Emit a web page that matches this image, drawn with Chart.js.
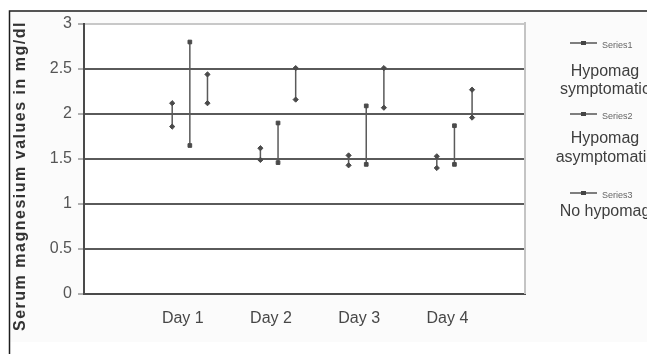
<!DOCTYPE html>
<html>
<head>
<meta charset="utf-8">
<script src="https://cdn.jsdelivr.net/npm/chart.js@4"></script>
<style>
  html, body { margin: 0; padding: 0; background: #fff; }
  #wrap { width: 647px; height: 354px; position: relative; }
</style>
</head>
<body>
<div id="wrap"><canvas id="chart"></canvas></div>
<script>
// values (mg/dl), top and bottom of each range
const days = ['Day 1', 'Day 2', 'Day 3', 'Day 4'];
const seriesKeys = ['Series1', 'Series2', 'Series3'];
const seriesNames = [['Hypomag', 'symptomatic'], ['Hypomag', 'asymptomatic'], ['No hypomag']];
const s1High = [2.12, 1.62, 1.54, 1.53];
const s1Low = [1.86, 1.49, 1.43, 1.40];
const s2High = [2.80, 1.90, 2.09, 1.87];
const s2Low = [1.65, 1.46, 1.44, 1.44];
const s3High = [2.44, 2.51, 2.51, 2.27];
const s3Low = [2.12, 2.16, 2.07, 1.96];
const yTicks = [0, 0.5, 1, 1.5, 2, 2.5, 3];
const yTitle = 'Serum magnesium values in mg/dl';

// each day sits at i + 1.2 on a 0..5 axis, series spread around it
const ranges = (high, low, shift) => {
    let pts = [];
    high.forEach((h, i) => {
        let x = i + 1.2 + shift;
        pts.push({ x: x, y: h }, { x: x, y: low[i] }, { x: x, y: null });
    });
    return pts;
};

const markers = ['rectRot', 'rect', 'rectRot'];

const frame = {
    id: 'frame',
    beforeDraw: (chart) => {
        let ctx = chart.ctx;
        ctx.save();
        ctx.fillStyle = '#fbfbfb';
        ctx.fillRect(10, 12, 637, 330);
        ctx.strokeStyle = '#1e1e1e';
        ctx.lineWidth = 1.5;
        ctx.beginPath();
        ctx.moveTo(9.5, 354);
        ctx.lineTo(9.5, 11);
        ctx.lineTo(647, 11);
        ctx.stroke();
        ctx.fillStyle = '#fff';
        ctx.fillRect(chart.chartArea.left, chart.chartArea.top, chart.chartArea.width, chart.chartArea.height);
        ctx.restore();
    },
    beforeDatasetsDraw: (chart) => {
        let a = chart.chartArea, ctx = chart.ctx;
        ctx.save();
        ctx.strokeStyle = '#c4c4c4';
        ctx.lineWidth = 2;
        ctx.beginPath();
        ctx.moveTo(a.right, a.top - 2);
        ctx.lineTo(a.right, a.bottom);
        ctx.stroke();
        ctx.restore();
    },
    afterDraw: (chart) => {
        let ctx = chart.ctx;
        ctx.save();
        // rotated axis title, stretched to its length in the picture
        ctx.translate(21, 176);
        ctx.rotate(-Math.PI / 2);
        ctx.font = 'bold 16px "Liberation Sans", Arial, sans-serif';
        let w = ctx.measureText(yTitle).width;
        ctx.letterSpacing = Math.max(0, (310 - w) / yTitle.length).toFixed(2) + 'px';
        ctx.fillStyle = '#333';
        ctx.textAlign = 'center';
        ctx.textBaseline = 'middle';
        ctx.fillText(yTitle, 0, 0);
        ctx.restore();

        // legend on the right
        const keyY = [43, 114, 193];
        const nameY = [[72, 90], [139, 158], [212]];
        ctx.save();
        seriesKeys.forEach((k, i) => {
            let y = keyY[i];
            ctx.strokeStyle = '#555';
            ctx.lineWidth = 1.5;
            ctx.beginPath();
            ctx.moveTo(570, y);
            ctx.lineTo(597, y);
            ctx.stroke();
            ctx.fillStyle = '#444';
            ctx.fillRect(581, y - 2, 5, 4);
            ctx.font = '9px "Liberation Sans", Arial, sans-serif';
            ctx.fillStyle = '#666';
            ctx.textAlign = 'left';
            ctx.textBaseline = 'middle';
            ctx.fillText(k, 602, y + 3);
            ctx.font = '16px "Liberation Sans", Arial, sans-serif';
            ctx.fillStyle = '#3e3e3e';
            ctx.textAlign = 'center';
            seriesNames[i].forEach((line, j) => {
                ctx.fillText(line, 605, nameY[i][j]);
            });
        });
        ctx.restore();
    }
};

const makeSet = (label, high, low, shift, i) => ({
    label: label,
    data: ranges(high, low, shift),
    showLine: true,
    spanGaps: false,
    borderColor: '#5a5a5a',
    borderWidth: 1.5,
    pointStyle: markers[i],
    pointRadius: 2.6,
    pointBackgroundColor: '#4a4a4a',
    pointBorderColor: '#4a4a4a',
    pointBorderWidth: 1
});

new Chart(document.getElementById('chart'), {
    type: 'scatter',
    data: {
        datasets: [
            makeSet(seriesKeys[0], s1High, s1Low, -0.2, 0),
            makeSet(seriesKeys[1], s2High, s2Low, 0, 1),
            makeSet(seriesKeys[2], s3High, s3Low, 0.2, 2)
        ]
    },
    options: {
        responsive: true,
        maintainAspectRatio: false,
        animation: false,
        devicePixelRatio: 1,
        layout: { padding: { left: 0, top: 24, right: 122, bottom: 0 } },
        plugins: {
            legend: { display: false },
            tooltip: { enabled: false }
        },
        scales: {
            x: {
                type: 'linear',
                min: 0,
                max: 5,
                afterBuildTicks: (axis) => {
                    axis.ticks = days.map((d, i) => ({ value: i + 1.12 }));
                },
                afterFit: (axis) => { axis.height = 60; },
                grid: { display: false, drawTicks: false },
                border: { display: true, color: '#4a4a4a', width: 2 },
                ticks: {
                    padding: 15,
                    color: '#474747',
                    font: { family: '"Liberation Sans", Arial, sans-serif', size: 16 },
                    callback: (v, idx) => days[idx],
                    maxRotation: 0
                }
            },
            y: {
                min: 0,
                max: 3,
                afterBuildTicks: (axis) => {
                    axis.ticks = yTicks.map(v => ({ value: v }));
                },
                afterFit: (axis) => { axis.width = 84; },
                grid: {
                    color: (c) => c.tick && c.tick.value === 3 ? '#c8c8c8' : '#5a5a5a',
                    lineWidth: 2,
                    drawTicks: true,
                    tickLength: 6,
                    tickColor: '#666',
                    tickWidth: 1
                },
                border: { display: true, color: '#4a4a4a', width: 2 },
                ticks: {
                    padding: 6,
                    color: '#555',
                    font: { family: '"Liberation Sans", Arial, sans-serif', size: 16 },
                    callback: (v) => String(v)
                }
            }
        }
    },
    plugins: [frame]
});
</script>
</body>
</html>
